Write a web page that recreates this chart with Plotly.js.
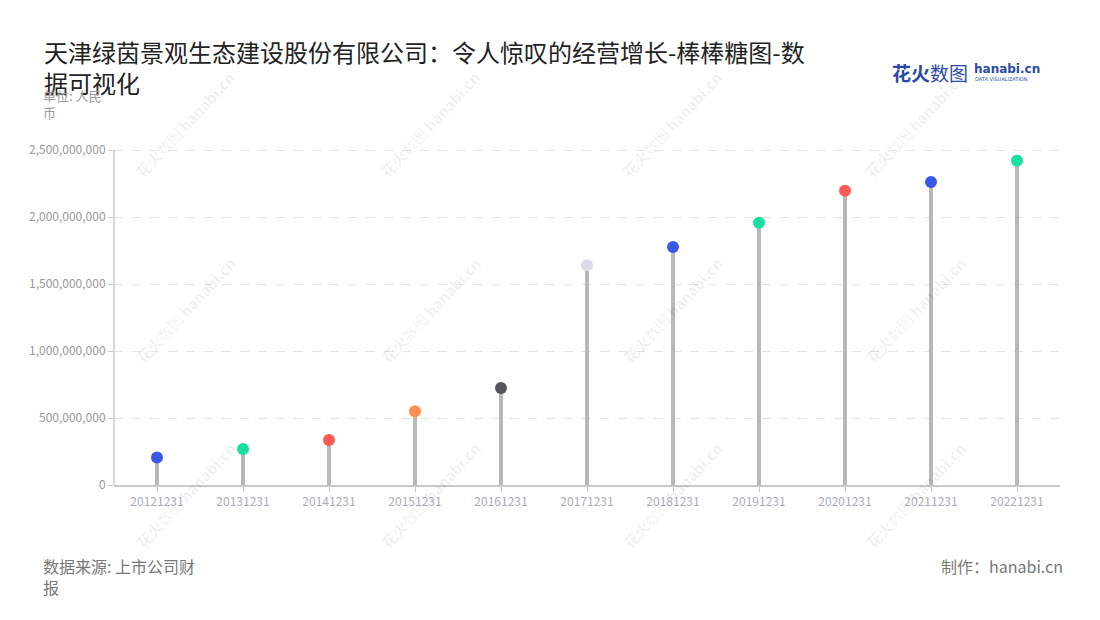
<!DOCTYPE html>
<html>
<head>
<meta charset="utf-8">
<script src="https://cdn.plot.ly/plotly-3.0.1.min.js"></script>
<style>
html,body{margin:0;padding:0;background:#fff;}
#chart{width:1100px;height:620px;}
</style>
</head>
<body>
<div id="chart"></div>
<script>
const categories = ["20121231","20131231","20141231","20151231","20161231","20171231","20181231","20191231","20201231","20211231","20221231"];
const revenue = [206000000, 269000000, 336000000, 550000000, 724000000, 1640000000, 1776000000, 1957000000, 2196000000, 2261000000, 2420000000];
const dotColors = ["#3a58e8","#19e0a0","#ff5b52","#ff8f50","#53545e","#d9dce6","#3a58e8","#19e0a0","#ff5b52","#3a58e8","#19e0a0"];
const yTicks = [0, 500000000, 1000000000, 1500000000, 2000000000, 2500000000];
const yTickLabels = ["0","500,000,000","1,000,000,000","1,500,000,000","2,000,000,000","2,500,000,000"];

const FONT = '"Noto Sans CJK SC", "Noto Sans", sans-serif';

// plot area in pixels
const L = 114, R = 1060, T = 146, B = 485;
const W = R - L, H = B - T;
const px = x => (x - L) / W;
const py = y => (B - y) / H;

const stems = {
  type: 'bar',
  x: categories,
  y: revenue,
  width: 0.045,
  marker: {color: '#b8b8b8', line: {width: 0}},
  hoverinfo: 'skip',
  showlegend: false
};
const dots = {
  type: 'scatter',
  mode: 'markers',
  x: categories,
  y: revenue,
  marker: {color: dotColors, size: 12, line: {width: 0}},
  cliponaxis: false,
  hoverinfo: 'x+y',
  showlegend: false
};

// faint watermark tiles
const wmX = [185, 430, 672, 915];
const wmY = [125, 310, 495];
const watermarks = [];
wmY.forEach(yy => wmX.forEach(xx => {
  watermarks.push({
    text: '<b>花火</b>数图 <b>hanabi.cn</b>',
    xref: 'paper', yref: 'paper', x: px(xx), y: py(yy),
    xanchor: 'center', yanchor: 'middle', showarrow: false,
    textangle: -47,
    font: {family: FONT, size: 15, color: 'rgba(0,0,0,0.065)'}
  });
}));

const layout = {
  width: 1100, height: 620,
  paper_bgcolor: '#fff', plot_bgcolor: '#fff',
  margin: {l: L, r: 1100 - R, t: T, b: 620 - B},
  font: {family: FONT},
  title: {
    text: '天津绿茵景观生态建设股份有限公司：令人惊叹的经营增长-棒棒糖图-数<br>据可视化',
    x: 44/1100, xanchor: 'left', xref: 'container',
    y: 1 - 62/620, yanchor: 'top', yref: 'container',
    font: {family: FONT, size: 24, color: '#222'}
  },
  xaxis: {
    type: 'category',
    range: [-0.5, 10.5],
    showgrid: false,
    showline: true, linecolor: '#c8c8c8', linewidth: 2,
    ticks: 'outside', ticklen: 5, tickcolor: '#c8c8c8', tickwidth: 1,
    tickfont: {family: FONT, size: 12, color: '#a8abb8'},
    fixedrange: true
  },
  yaxis: {
    range: [0, 2500000000 * H / 335],
    tickvals: yTicks, ticktext: yTickLabels,
    showgrid: true, gridcolor: '#e3e3e3', griddash: 'dash', gridwidth: 1,
    zeroline: false,
    showline: false,
    ticks: 'outside', ticklen: 5, tickcolor: '#c8c8c8',
    tickfont: {family: FONT, size: 12, color: '#999'},
    fixedrange: true
  },
  shapes: [
    {type: 'line', xref: 'paper', yref: 'y', x0: 0, x1: 0, y0: 0, y1: yTicks[yTicks.length - 1],
     line: {color: '#c8c8c8', width: 1.5}}
  ],
  bargap: 0,
  annotations: watermarks.concat([
    {text: '单位: 人民<br>币', xref: 'paper', yref: 'paper', x: px(41), y: py(84),
     xanchor: 'left', yanchor: 'top', align: 'left', showarrow: false,
     font: {family: FONT, size: 13, color: '#999'}},
    {text: '数据来源: 上市公司财<br>报', xref: 'paper', yref: 'paper', x: px(41), y: py(552),
     xanchor: 'left', yanchor: 'top', align: 'left', showarrow: false,
     font: {family: FONT, size: 16, color: '#777'}},
    {text: '制作：hanabi.cn', xref: 'paper', yref: 'paper', x: px(1065), y: py(552),
     xanchor: 'right', yanchor: 'top', align: 'right', showarrow: false,
     font: {family: FONT, size: 16, color: '#777'}},
    {text: '<b>花火</b>数图', xref: 'paper', yref: 'paper', x: px(890), y: py(72),
     xanchor: 'left', yanchor: 'middle', showarrow: false,
     font: {family: FONT, size: 19, color: '#2b4aa8'}},
    {text: '<b>hanabi.cn</b>', xref: 'paper', yref: 'paper', x: px(972), y: py(69),
     xanchor: 'left', yanchor: 'middle', showarrow: false,
     font: {family: '"DejaVu Sans", sans-serif', size: 12, color: '#2b4aa8'}},
    {text: 'DATA VISUALIZATION', xref: 'paper', yref: 'paper', x: px(973), y: py(79),
     xanchor: 'left', yanchor: 'middle', showarrow: false,
     font: {family: '"DejaVu Sans", sans-serif', size: 5, color: '#2b4aa8'}}
  ])
};

Plotly.newPlot('chart', [stems, dots], layout, {displayModeBar: false, responsive: false});
</script>
</body>
</html>
